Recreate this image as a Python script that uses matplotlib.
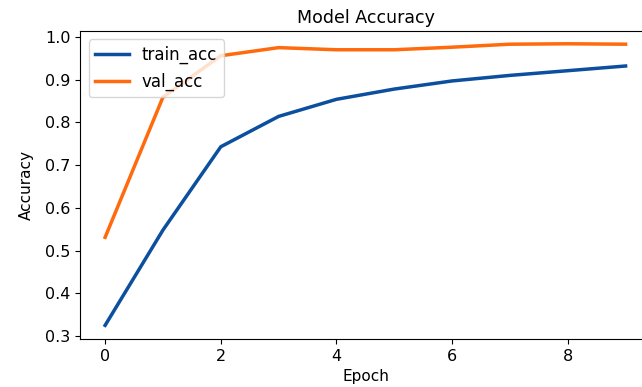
import matplotlib
matplotlib.use("Agg")
import matplotlib.pyplot as plt

# accuracy per epoch
epochs = list(range(10))
train_acc = [0.325, 0.548, 0.743, 0.814, 0.854, 0.878, 0.897, 0.910, 0.921, 0.932]
val_acc = [0.531, 0.859, 0.956, 0.975, 0.970, 0.970, 0.976, 0.983, 0.984, 0.983]

plt.rcParams['font.size'] = 11.5

fig = plt.figure(figsize=(6.42, 3.87), dpi=100)
ax = fig.add_axes([0.125, 0.124, 0.89, 0.796])

ax.plot(epochs, train_acc, color="#0b4f9e", linewidth=2.5, label="train_acc")
ax.plot(epochs, val_acc, color="#ff6a0d", linewidth=2.5, label="val_acc")

ax.set_xlim(-0.43, 9.45)
ax.set_ylim(0.293, 1.014)
ax.set_xticks([0, 2, 4, 6, 8])
ax.set_title("Model Accuracy", fontsize=12.5)
ax.set_xlabel("Epoch", fontsize=11)
ax.set_ylabel("Accuracy", fontsize=11, labelpad=8)
ax.legend(loc="upper left", fontsize=12)

fig.savefig("out.png", dpi=100)
